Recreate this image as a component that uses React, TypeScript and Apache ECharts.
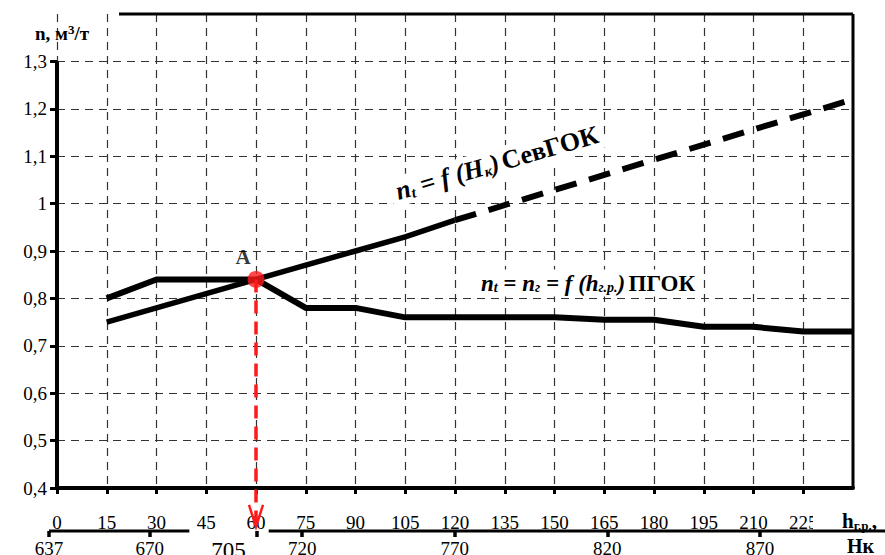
import React, { useEffect, useRef } from 'react';
import * as echarts from 'echarts';

// h_г.р. axis (primary x axis) tick labels
const hgrTicks = [0, 15, 30, 45, 60, 75, 90, 105, 120, 135, 150, 165, 180, 195, 210, 225];
// y axis tick labels
const yTicks = [0.4, 0.5, 0.6, 0.7, 0.8, 0.9, 1, 1.1, 1.2, 1.3];
// Нк axis (secondary x axis) tick labels
const hkTicks = [637, 670, 705, 720, 770, 820, 870];
const hkA = 705;

// ПГОК: n_t = n_г = f(h_г.р.)
const pgokX = [15, 30, 45, 60, 75, 90, 105, 120, 135, 150, 165, 180, 195, 210, 225, 240];
const pgokValues = [0.8, 0.84, 0.84, 0.84, 0.78, 0.78, 0.76, 0.76, 0.76, 0.76, 0.755, 0.755, 0.74, 0.74, 0.73, 0.73];

// СевГОК: n_t = f(Нк) — measured part (solid) and extrapolation (dashed)
const sevX = [15, 30, 45, 60, 75, 90, 105, 120];
const sevValues = [0.75, 0.78, 0.81, 0.84, 0.87, 0.9, 0.93, 0.965];
const sevDashX = [120, 240];
const sevDashValues = [0.965, 1.22];

// point A and the projection arrow down to the Нк axis
const pointA = [60, 0.84];
const arrowEndValue = 0.318;

// frame pieces (in data units)
const leftAxis = [[0, 0.4], [0, 1.3]];
const topBorder = [[18.7, 1.4], [240, 1.4]];
const rightBorder = [[240, 0.4], [240, 1.4]];

// Нк axis line pieces (gap around the 705 label)
const hkSegments = [[637, 683], [709, 911]];

const SERIF = "'Liberation Serif', 'DejaVu Serif', serif";

function zip(xs: number[], ys: number[]) {
  return xs.map((x, i) => [x, ys[i]]);
}

export default function App() {
  const ref = useRef<HTMLDivElement>(null);

  useEffect(() => {
    if (!ref.current) return;
    const chart = echarts.init(ref.current, null, { renderer: 'svg' });

    const frameSeries = [leftAxis, topBorder, rightBorder].map((d, i) => ({
      type: 'line',
      xAxisIndex: 0,
      yAxisIndex: 0,
      data: d,
      symbol: 'none',
      clip: false,
      silent: true,
      z: 3,
      lineStyle: { color: '#000', width: i === 0 ? 4 : 3 },
    }));

    const hkAxisSeries = hkSegments.map((s) => ({
      type: 'line',
      xAxisIndex: 1,
      yAxisIndex: 1,
      data: [[s[0], 0], [s[1], 0]],
      symbol: 'none',
      clip: false,
      silent: true,
      lineStyle: { color: '#000', width: 3 },
    }));

    const option: any = {
      animation: false,
      backgroundColor: '#fff',
      textStyle: { fontFamily: SERIF },
      grid: [
        { left: 57, right: 32, top: 14, bottom: 67, outerBoundsMode: 'none', containLabel: false },
        { left: 49, right: 0, top: 500, bottom: 24, outerBoundsMode: 'none', containLabel: false },
      ],
      xAxis: [
        {
          type: 'value',
          gridIndex: 0,
          min: 0,
          max: 240,
          interval: 15,
          axisLine: { show: true, lineStyle: { color: '#000', width: 4 } },
          axisTick: { show: true, customValues: hgrTicks, length: 6, lineStyle: { color: '#000', width: 3 } },
          axisLabel: {
            customValues: hgrTicks,
            margin: 25,
            fontSize: 19,
            color: '#000',
            fontFamily: SERIF,
          },
          splitLine: { show: true, lineStyle: { color: '#333', width: 1.2, type: [8, 6] } },
        },
        {
          type: 'value',
          gridIndex: 1,
          min: 637,
          max: 911,
          axisLine: { show: false },
          axisTick: { show: true, customValues: hkTicks, length: 6, lineStyle: { color: '#000', width: 3.5 } },
          axisLabel: {
            customValues: hkTicks,
            margin: 8,
            fontSize: 19,
            color: '#000',
            fontFamily: SERIF,
            formatter: (v: number) => (v === hkA ? '{big|' + v + '}' : String(v)),
            rich: {
              big: { fontSize: 23, fontFamily: SERIF, color: '#000', padding: [0, 56, 6, 0] },
            },
          },
          splitLine: { show: false },
        },
      ],
      yAxis: [
        {
          type: 'value',
          gridIndex: 0,
          min: 0.4,
          max: 1.4,
          interval: 0.1,
          axisLine: { show: false },
          axisTick: { show: true, customValues: yTicks, length: 7, lineStyle: { color: '#000', width: 3 } },
          axisLabel: {
            customValues: yTicks,
            margin: 10,
            fontSize: 19,
            color: '#000',
            fontFamily: SERIF,
            formatter: (v: number) => String(Math.round(v * 10) / 10).replace('.', ','),
          },
          splitLine: { show: true, lineStyle: { color: '#333', width: 1.2, type: [8, 6] } },
        },
        { type: 'value', gridIndex: 1, min: 0, max: 1, show: false },
      ],
      series: [
        ...frameSeries,
        ...hkAxisSeries,
        {
          name: 'ПГОК',
          type: 'line',
          data: zip(pgokX, pgokValues),
          symbol: 'none',
          clip: false,
          z: 4,
          lineStyle: { color: '#000', width: 6 },
        },
        {
          name: 'СевГОК',
          type: 'line',
          data: zip(sevX, sevValues),
          symbol: 'none',
          clip: false,
          z: 4,
          lineStyle: { color: '#000', width: 5.5 },
        },
        {
          name: 'СевГОК прогноз',
          type: 'line',
          data: zip(sevDashX, sevDashValues),
          symbol: 'none',
          clip: false,
          z: 4,
          lineStyle: { color: '#000', width: 6, type: [22, 13] },
        },
        {
          type: 'custom',
          xAxisIndex: 0,
          yAxisIndex: 0,
          clip: false,
          z: 6,
          data: [[pointA[0], pointA[1], arrowEndValue]],
          renderItem: (_p: any, api: any) => {
            const p1 = api.coord([api.value(0), api.value(1)]);
            const p2 = api.coord([api.value(0), api.value(2)]);
            return {
              type: 'group',
              children: [
                {
                  type: 'line',
                  shape: { x1: p1[0], y1: p1[1], x2: p2[0], y2: p2[1] - 2 },
                  style: { stroke: '#ff1a1a', lineWidth: 3.5, lineDash: [13, 8] },
                },
                {
                  type: 'polyline',
                  shape: { points: [[p2[0] - 7, p2[1] - 22], [p2[0], p2[1]], [p2[0] + 7, p2[1] - 22]] },
                  style: { stroke: '#ff1a1a', lineWidth: 2.5, fill: 'none' },
                },
              ],
            };
          },
        },
        {
          type: 'scatter',
          data: [pointA],
          symbol: 'circle',
          symbolSize: 17,
          z: 8,
          itemStyle: { color: '#ff1a1a' },
          label: {
            show: true,
            position: 'top',
            formatter: 'A',
            offset: [-13, 2],
            fontSize: 21,
            fontWeight: 'bold',
            fontFamily: SERIF,
            color: '#000',
          },
        },
      ],
      graphic: [
        {
          type: 'text',
          x: 62,
          y: 33,
          z: 100,
          style: {
            text: '{b|n, м}{sup|3}{b|/т}',
            align: 'center',
            verticalAlign: 'middle',
            rich: {
              b: { fontSize: 19, fontWeight: 'bold', fontFamily: SERIF, color: '#000' },
              sup: { fontSize: 13, fontWeight: 'bold', fontFamily: SERIF, color: '#000', verticalAlign: 'top', padding: [0, 0, 8, 0] },
            },
          },
        },
        {
          type: 'text',
          x: 497,
          y: 163,
          z: 100,
          rotation: (16 * Math.PI) / 180,
          style: {
            text: '{i|n}{s|t}{i| = f (Н}{s|к}{i|)} {b|СевГОК}',
            align: 'center',
            verticalAlign: 'middle',
            backgroundColor: '#fff',
            padding: [2, 6],
            rich: {
              i: { fontSize: 26, fontStyle: 'italic', fontWeight: 'bold', fontFamily: SERIF, color: '#000' },
              s: { fontSize: 15, fontStyle: 'italic', fontWeight: 'bold', fontFamily: SERIF, color: '#000', verticalAlign: 'bottom' },
              b: { fontSize: 26, fontWeight: 'bold', fontFamily: SERIF, color: '#000' },
            },
          },
        },
        {
          type: 'text',
          x: 588,
          y: 283,
          z: 100,
          style: {
            text: '{i|n}{s|t}{i| = n}{s|г}{i| = f (h}{s|г.р.}{i|)} {b|ПГОК}',
            align: 'center',
            verticalAlign: 'middle',
            backgroundColor: '#fff',
            padding: [2, 4],
            rich: {
              i: { fontSize: 23, fontStyle: 'italic', fontWeight: 'bold', fontFamily: SERIF, color: '#000' },
              s: { fontSize: 14, fontStyle: 'italic', fontWeight: 'bold', fontFamily: SERIF, color: '#000', verticalAlign: 'bottom' },
              b: { fontSize: 23, fontWeight: 'bold', fontFamily: SERIF, color: '#000' },
            },
          },
        },
        {
          type: 'rect',
          z: 100,
          shape: { x: 813, y: 509, width: 24, height: 20 },
          style: { fill: '#fff' },
        },
        {
          type: 'text',
          x: 842,
          y: 521,
          z: 101,
          style: {
            text: '{b|h}{s|г.р.}{b|,}',
            align: 'left',
            verticalAlign: 'middle',
            rich: {
              b: { fontSize: 21, fontWeight: 'bold', fontFamily: SERIF, color: '#000' },
              s: { fontSize: 13, fontWeight: 'bold', fontFamily: SERIF, color: '#000', verticalAlign: 'bottom' },
            },
          },
        },
        {
          type: 'text',
          x: 847,
          y: 546,
          z: 101,
          style: {
            text: 'Нк',
            align: 'left',
            verticalAlign: 'middle',
            fontSize: 20,
            fontWeight: 'bold',
            fontFamily: SERIF,
            fill: '#000',
          },
        },
      ],
    };

    chart.setOption(option);
    return () => chart.dispose();
  }, []);

  return (
    <div
      ref={ref}
      style={{ position: 'fixed', left: 0, top: 0, width: 885, height: 555, background: '#fff' }}
    />
  );
}
